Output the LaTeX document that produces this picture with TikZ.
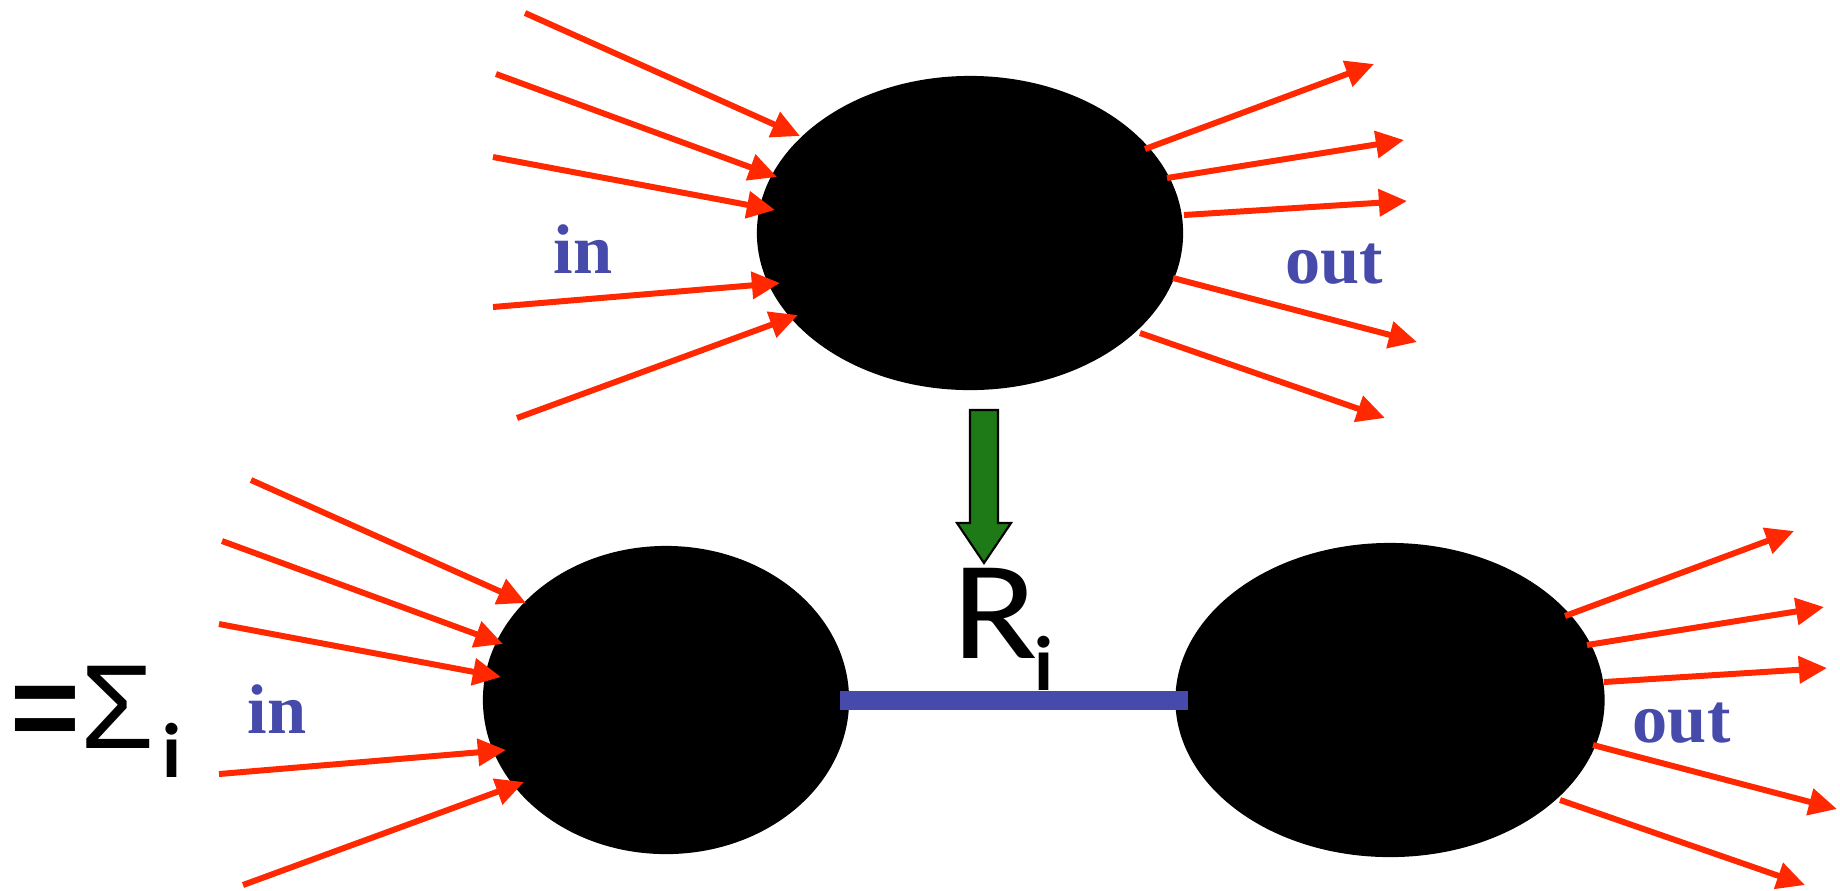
\documentclass[tikz,border=0pt]{standalone}
\usepackage{fontspec}
\setmainfont{Liberation Serif}
\newfontfamily\handfont{Carlito}
\newfontfamily\signfont{Liberation Sans}
\usetikzlibrary{arrows.meta,calc,shapes.geometric}
\definecolor{rayred}{RGB}{255,40,0}
\definecolor{inkblue}{RGB}{69,74,171}
\definecolor{pushgreen}{RGB}{30,122,22}

\begin{document}
\begin{tikzpicture}[x=0.01cm,y=-0.01cm]
  \tikzset{blob/.style={shape=ellipse,fill=black,inner sep=0pt},
    ray/.style={draw=rayred,line width=1.7pt,-{Triangle[length=8pt,width=7.5pt]}},
    word/.style={anchor=base west,inner sep=0pt,text=inkblue,font=\bfseries\fontsize{20}{24}\selectfont},
    sub/.style={anchor=base,inner sep=0pt,font=\handfont\bfseries\fontsize{22}{26}\selectfont}};
  \useasboundingbox (0,0) rectangle (1840,890);
  % the three blobs
  \node[blob,minimum width=4.26cm,minimum height=3.14cm](diag) at (970,233){};
  \node[blob,minimum width=3.66cm,minimum height=3.08cm](diagL) at (666,700){};
  \node[blob,minimum width=4.29cm,minimum height=3.14cm](diagR) at (1390,700){};
  % incoming and outgoing lines
  \foreach \sx/\sy/\tx/\ty in {-445/-220/-170/-97,-474/-159/-193/-56,-477/-76/-195/-23,-477/74/-190/50,-453/185/-172/82}{
    \draw[ray] ($(diag)+(\sx,\sy)$) -- ($(diag)+(\tx,\ty)$);
    \draw[ray] ($(diagL)+(\sx+30,\sy)$) -- ($(diagL)+(\tx+30,\ty)$);
  }
  \foreach \sx/\sy/\tx/\ty in {175/-84/404/-169,197/-55/434/-93,214/-18/437/-32,203/45/447/109,170/100/415/185}{
    \draw[ray] ($(diag)+(\sx,\sy)$) -- ($(diag)+(\tx,\ty)$);
    \draw[ray] ($(diagR)+(\sx,\sy)$) -- ($(diagR)+(\tx,\ty)$);
  }
  \node[word](inT) at (553,273){in};
  \node[word](outT) at (1285,283){out};
  \node[word](inB) at (247,733){in};
  \node[word](outB) at (1632,742){out};
  % green arrow and the cut
  \coordinate (push) at (984,410);
  \draw[fill=pushgreen,line width=0.6pt] (push) ++(-14,0) -- ++(28,0) -- ++(0,113) -- ++(13,0)
    -- ++(-27,40) -- ++(-27,-40) -- ++(13,0) -- cycle;
  \node[anchor=base west,inner sep=0pt,font=\handfont\fontsize{40}{48}\selectfont](R) at (952,658){\scalebox{1.12}[1]{R}};
  \node[sub](Ri) at (1044,690){i};
  \draw[draw=inkblue,line width=0.19cm,shorten <=-0.1cm,shorten >=-0.135cm] (diagL.east) -- (diagR.west);
  \node[anchor=base west,inner sep=0pt,font=\signfont\fontsize{34}{40}\selectfont](sum) at (10,748){\textbf{=}Σ};
  \node[sub](sumi) at (172,777){i};
\end{tikzpicture}
\end{document}
